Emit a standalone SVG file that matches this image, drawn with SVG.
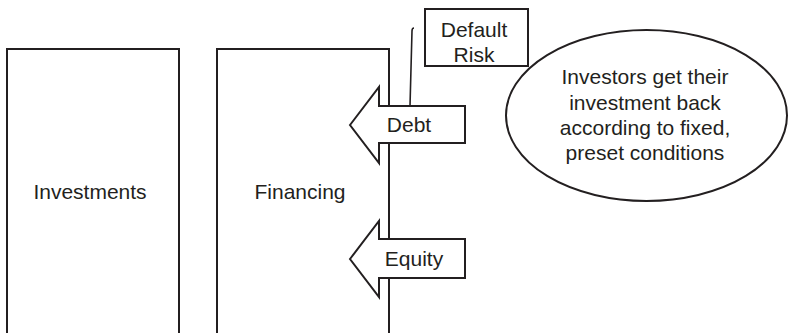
<svg xmlns="http://www.w3.org/2000/svg" width="788" height="333" viewBox="0 0 788 333">
  <style>
    .box { fill: #ffffff; stroke: #231f20; stroke-width: 2; }
    .thin { fill: none; stroke: #231f20; stroke-width: 1.6; }
    .lbl { font-family: "Liberation Sans", Arial, sans-serif; font-size: 21px; fill: #231f20; text-anchor: middle; }
  </style>
  <rect width="788" height="333" fill="#ffffff"/>

  <g id="investments">
    <rect class="box" x="7" y="49" width="172" height="300"/>
    <text class="lbl" x="90" y="199">Investments</text>
  </g>

  <g id="financing">
    <rect class="box" x="217" y="49" width="172" height="300"/>
    <text class="lbl" x="300" y="199">Financing</text>
  </g>

  <g id="connectors">
    <path class="thin" d="M414 28 Q412 28 412 31 L410 106"/>
  </g>

  <g id="default-risk">
    <rect class="box" x="425" y="9" width="103" height="57"/>
    <text class="lbl" x="474" y="37">Default</text>
    <text class="lbl" x="474" y="62">Risk</text>
  </g>

  <g id="debt">
    <polygon class="box" points="350,125 379,87 379,106 465,106 465,143 379,143 379,163"/>
    <text class="lbl" x="409" y="132">Debt</text>
  </g>

  <g id="equity">
    <polygon class="box" points="350,259 379,221 379,239 465,239 465,278 379,278 379,297"/>
    <text class="lbl" x="414" y="266">Equity</text>
  </g>

  <g id="investor-note">
    <ellipse class="box" cx="646.5" cy="115.5" rx="140.5" ry="85.5"/>
    <text class="lbl" x="645" y="84">Investors get their</text>
    <text class="lbl" x="645" y="110">investment back</text>
    <text class="lbl" x="645" y="135">according to fixed,</text>
    <text class="lbl" x="645" y="160">preset conditions</text>
  </g>
</svg>
